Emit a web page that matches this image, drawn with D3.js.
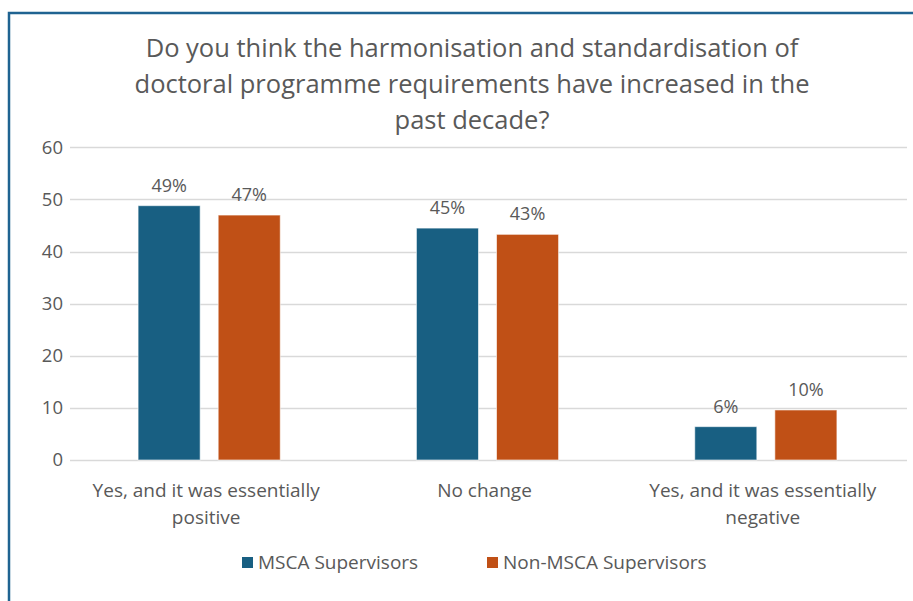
<!DOCTYPE html>
<html>
<head>
<meta charset="utf-8">
<script src="https://cdn.jsdelivr.net/npm/d3@7"></script>
<style>
  body { margin: 0; background: #fff; }
  svg { display: block; font-family: "Open Sans", "Noto Sans", sans-serif; }
</style>
</head>
<body>
<svg width="913" height="601"></svg>
<script>
var categories = [
  ["Yes, and it was essentially", "positive"],
  ["No change"],
  ["Yes, and it was essentially", "negative"]
];
var seriesNames = ["MSCA Supervisors", "Non-MSCA Supervisors"];
var msca = [48.8, 44.5, 6.4];
var nonMsca = [47.0, 43.3, 9.6];
var mscaLabels = ["49%", "45%", "6%"];
var nonMscaLabels = ["47%", "43%", "10%"];
var yTicks = [0, 10, 20, 30, 40, 50, 60];
var titleLines = [
  "Do you think the harmonisation and standardisation of",
  "doctoral programme requirements have increased in the",
  "past decade?"
];

var colors = ["#185f82", "#c05016"];
var textColor = "#595959";

var svg = d3.select("svg");

// frame
svg.append("rect")
    .attr("x", 9).attr("y", 13)
    .attr("width", 920).attr("height", 600)
    .attr("fill", "none")
    .attr("stroke", "#1f6391")
    .attr("stroke-width", 2.5);

// title
svg.append("g").selectAll("text")
    .data(titleLines)
  .enter().append("text")
    .attr("x", 472)
    .attr("y", function(d, i) { return 57 + i * 36; })
    .attr("text-anchor", "middle")
    .attr("font-size", 25.5)
    .attr("fill", textColor)
    .text(function(d) { return d; });

var plotLeft = 70, plotRight = 907, plotTop = 147.3, plotBottom = 460;

var x0 = d3.scaleBand()
    .domain(d3.range(categories.length))
    .range([plotLeft, plotRight - 2]);

var x1 = d3.scaleBand()
    .domain([0, 1])
    .range([0, x0.bandwidth()])
    .paddingInner(0.225)
    .paddingOuter(0.85);

var y = d3.scaleLinear()
    .domain([0, 60])
    .range([plotBottom, plotTop]);

// grid
svg.append("g").selectAll("line")
    .data(yTicks)
  .enter().append("line")
    .attr("x1", plotLeft).attr("x2", plotRight)
    .attr("y1", function(d) { return Math.round(y(d)) + 0.5; })
    .attr("y2", function(d) { return Math.round(y(d)) + 0.5; })
    .attr("stroke", "#d9d9d9")
    .attr("stroke-width", 1.5);

// y axis labels
var yAxis = svg.append("g")
    .attr("transform", "translate(" + plotLeft + ",0)")
    .call(d3.axisLeft(y).tickValues(yTicks).tickSize(0).tickPadding(7));
yAxis.select(".domain").remove();
yAxis.selectAll("text")
    .attr("font-size", 18.5)
    .attr("font-family", "Open Sans, Noto Sans, sans-serif")
    .attr("fill", textColor);

var rows = categories.map(function(c, i) {
  return [
    {s: 0, v: msca[i], label: mscaLabels[i]},
    {s: 1, v: nonMsca[i], label: nonMscaLabels[i]}
  ];
});

var groups = svg.append("g").selectAll("g")
    .data(rows)
  .enter().append("g")
    .attr("transform", function(d, i) { return "translate(" + x0(i) + ",0)"; });

groups.selectAll("rect")
    .data(function(d) { return d; })
  .enter().append("rect")
    .attr("x", function(d) { return x1(d.s); })
    .attr("y", function(d) { return y(d.v); })
    .attr("width", x1.bandwidth())
    .attr("height", function(d) { return y(0) - y(d.v); })
    .attr("fill", function(d) { return colors[d.s]; })
    .attr("stroke", "#ffffff")
    .attr("stroke-opacity", 0.6)
    .attr("stroke-width", 1);

groups.selectAll("text")
    .data(function(d) { return d; })
  .enter().append("text")
    .attr("x", function(d) { return x1(d.s) + x1.bandwidth() / 2; })
    .attr("y", function(d) { return y(d.v) - 14; })
    .attr("text-anchor", "middle")
    .attr("font-size", 18)
    .attr("fill", textColor)
    .text(function(d) { return d.label; });

// category labels
svg.append("g").selectAll("text")
    .data(categories)
  .enter().append("text")
    .attr("x", function(d, i) { return x0(i) + x0.bandwidth() / 2 - 3; })
    .attr("y", 497)
    .attr("text-anchor", "middle")
    .attr("font-size", 19)
    .attr("fill", textColor)
    .each(function(d) {
      var t = d3.select(this);
      d.forEach(function(line, j) {
        t.append("tspan")
          .attr("x", t.attr("x"))
          .attr("dy", j === 0 ? 0 : 27)
          .text(line);
      });
    });

// legend
var legendX = [242, 487];
var legend = svg.append("g").selectAll("g")
    .data(seriesNames)
  .enter().append("g")
    .attr("transform", function(d, i) { return "translate(" + legendX[i] + ",557)"; });

legend.append("rect")
    .attr("width", 11).attr("height", 11)
    .attr("fill", function(d, i) { return colors[i]; });

legend.append("text")
    .attr("x", 16)
    .attr("y", 12)
    .attr("font-size", 19)
    .attr("fill", textColor)
    .text(function(d) { return d; });
</script>
</body>
</html>
